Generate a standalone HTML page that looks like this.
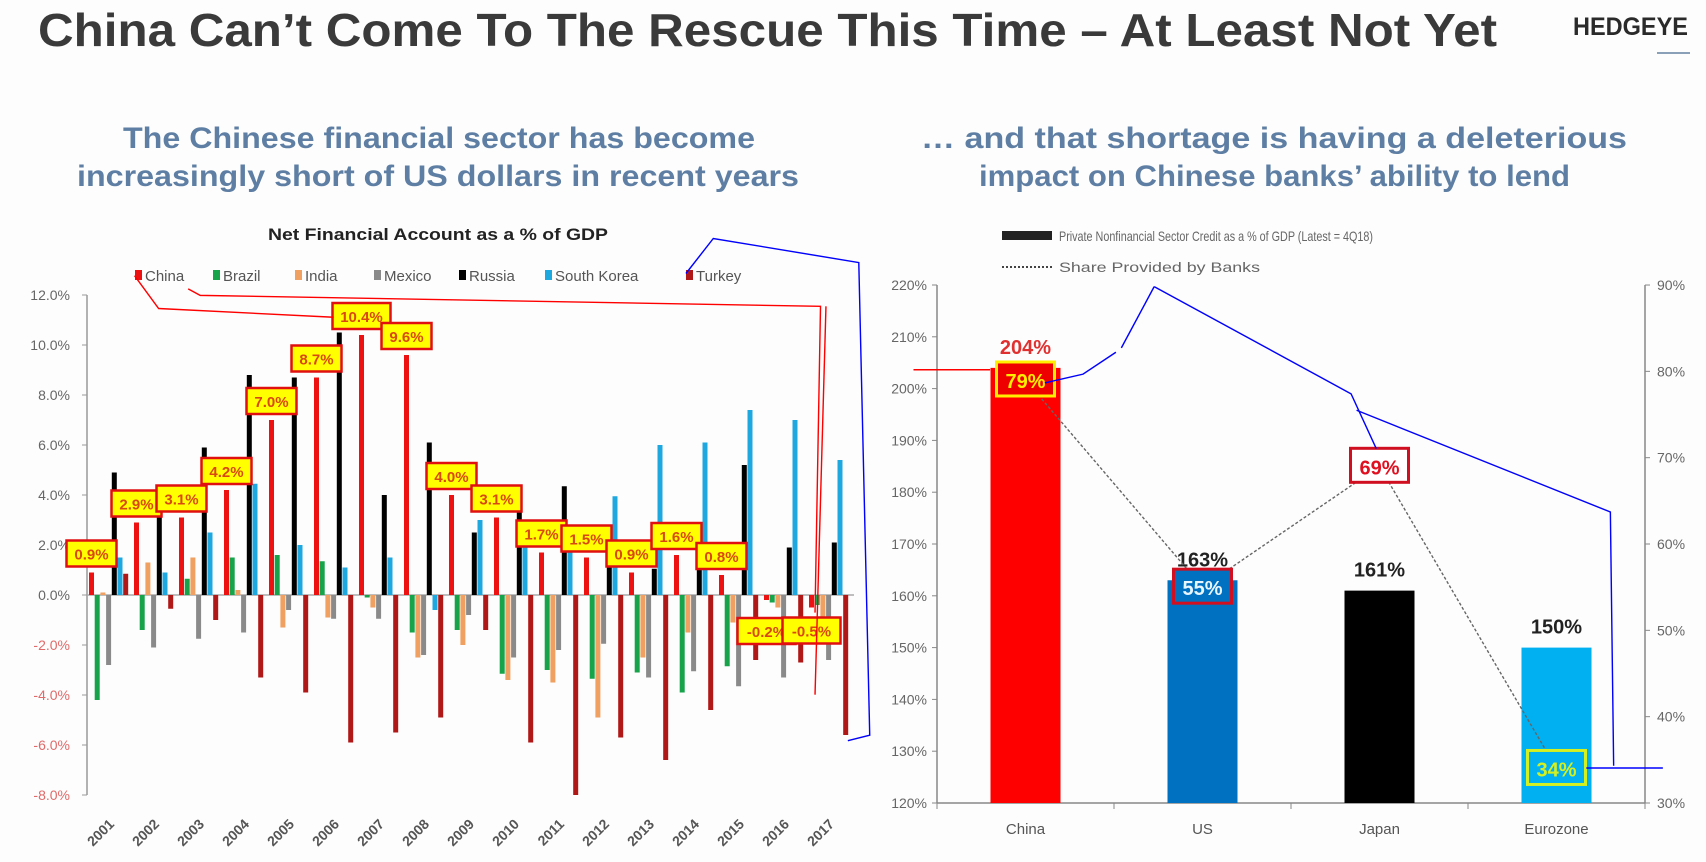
<!DOCTYPE html>
<html><head><meta charset="utf-8">
<style>
html,body{margin:0;padding:0;background:#fdfdfd;}
svg{display:block;font-family:"Liberation Sans",sans-serif;}
</style></head>
<body>
<svg id="chart" width="1706" height="862" viewBox="0 0 1706 862">
<rect x="0" y="0" width="1706" height="862" fill="#fdfdfd"/>
<text x="38" y="46" font-size="46" font-weight="bold" fill="#3a3a3a" textLength="1459" lengthAdjust="spacingAndGlyphs">China Can’t Come To The Rescue This Time – At Least Not Yet</text>
<text x="1573" y="35" font-size="25" font-weight="bold" fill="#2a2a2a" textLength="115" lengthAdjust="spacingAndGlyphs">HEDGEYE</text>
<line x1="1657" y1="53" x2="1690" y2="53" stroke="#8aa0b8" stroke-width="2"/>
<text x="123" y="148" font-size="30" font-weight="bold" fill="#5e7fa3" textLength="632" lengthAdjust="spacingAndGlyphs">The Chinese financial sector has become</text>
<text x="77" y="186" font-size="30" font-weight="bold" fill="#5e7fa3" textLength="722" lengthAdjust="spacingAndGlyphs">increasingly short of US dollars in recent years</text>
<text x="921" y="148" font-size="30" font-weight="bold" fill="#5e7fa3" textLength="706" lengthAdjust="spacingAndGlyphs">… and that shortage is having a deleterious</text>
<text x="979" y="186" font-size="30" font-weight="bold" fill="#5e7fa3" textLength="591" lengthAdjust="spacingAndGlyphs">impact on Chinese banks’ ability to lend</text>
<text x="268" y="240" font-size="17" font-weight="bold" fill="#222" textLength="340" lengthAdjust="spacingAndGlyphs">Net Financial Account as a % of GDP</text>
<g id="left"></g>
<g id="right"></g>
<g id="annot" transform="scale(1.094)" fill="none" stroke-width="1.3">
  <polyline points="123,252 145,282 305,290" stroke="#f00"/>
  <polyline points="172,264 183,270 750,280 745,560" stroke="#f00"/>
  <polyline points="755,280 745,635" stroke="#f00"/>
  <polyline points="835,338 905,338" stroke="#f00"/>
  <polyline points="627,250 652,218 785,240 795,672 775,677" stroke="#00f"/>
  <polyline points="1055,262 1025,318" stroke="#00f"/>
  <polyline points="1020,322 990,342 955,350" stroke="#00f"/>
  <polyline points="1055,262 1235,360 1258,410" stroke="#00f"/>
  <polyline points="1240,375 1472,468 1475,700" stroke="#00f"/>
  <polyline points="1450,702 1520,702" stroke="#00f"/>
</g>
</svg>
<script>
// ---------- LEFT CHART DATA ----------
const years = ["2001","2002","2003","2004","2005","2006","2007","2008","2009","2010","2011","2012","2013","2014","2015","2016","2017"];
const seriesNames = ["China","Brazil","India","Mexico","Russia","South Korea","Turkey"];
const china  = [0.9,2.9,3.1,4.2,7.0,8.7,10.4,9.6,4.0,3.1,1.7,1.5,0.9,1.6,0.8,-0.2,-0.5];
const brazil = [-4.2,-1.4,0.65,1.5,1.6,1.35,-0.1,-1.5,-1.4,-3.15,-3.0,-3.35,-3.1,-3.9,-2.85,-0.3,-0.4];
const india  = [0.1,1.3,1.5,0.2,-1.3,-0.9,-0.5,-2.5,-2.0,-3.4,-3.5,-4.9,-2.5,-1.5,-1.1,-0.5,-1.5];
const mexico = [-2.8,-2.1,-1.75,-1.5,-0.6,-0.95,-0.95,-2.4,-0.8,-2.5,-2.2,-1.95,-3.3,-3.05,-3.65,-3.3,-2.6];
const russia = [4.9,3.5,5.9,8.8,8.7,10.5,4.0,6.1,2.5,3.8,4.35,2.5,1.05,1.1,5.2,1.9,2.1];
const korea  = [1.5,0.9,2.5,4.45,2.0,1.1,1.5,-0.6,3.0,1.9,1.7,3.95,6.0,6.1,7.4,7.0,5.4];
const turkey = [0.85,-0.55,-1.0,-3.3,-3.9,-5.9,-5.5,-4.9,-1.4,-5.9,-8.0,-5.7,-6.6,-4.6,-2.6,-2.7,-5.6];
const yTicks = [12,10,8,6,4,2,0,-2,-4,-6,-8];
// ---------- RIGHT CHART DATA ----------
const regions = ["China","US","Japan","Eurozone"];
const credit = [204,163,161,150];
const creditLabels = ["204%","163%","161%","150%"];
const bankShare = [79,55,69,34];
const leftTicks = [220,210,200,190,180,170,160,150,140,130,120];
const rightTicks = [90,80,70,60,50,40,30];

const NS="http://www.w3.org/2000/svg";
function mk(parent,tag,attrs,text){const e=document.createElementNS(NS,tag);for(const k in attrs)e.setAttribute(k,attrs[k]);if(text!==undefined)e.textContent=text;parent.appendChild(e);return e;}

// ---- left chart ----
const L=document.getElementById('left');
const seriesData=[china,brazil,india,mexico,russia,korea,turkey];
const colors=["#ee1111","#16a34a","#f0a060","#8a8a8a","#000000","#1ea8e0","#b01818"];
const x0=89, groupW=45, barStep=5.7, barW=5;
function yL(v){return 595 - v*25;}
function gx(i){return x0 + i*groupW;}
let ax=mk(L,'line',{x1:87,y1:yL(12),x2:87,y2:yL(-8),stroke:'#999','stroke-width':1.5});


yTicks.forEach(t=>{
  let tk=mk(L,'line',{x1:82,y1:yL(t),x2:87,y2:yL(t),stroke:'#999'});
  
  
  let lb=mk(L,'text',{x:70,y:yL(t)+5,'font-size':14,'text-anchor':'end',fill:t<0?'#e06a6a':'#666'},t.toFixed(1)+'%');
  
  
});
let zl=mk(L,'line',{x1:87,y1:yL(0),x2:gx(years.length),y2:yL(0),stroke:'#aaa','stroke-width':1.5});


const legX=[135,213,295,374,459,545,686];
seriesNames.forEach((n,i)=>{
  let r=mk(L,'rect',{x:legX[i],y:270,width:7,height:10,fill:colors[i]});
  
  
  let t=mk(L,'text',{x:legX[i]+10,y:281,'font-size':15,fill:'#555'},n);
  
  
});
years.forEach((yr,i)=>{
  seriesData.forEach((s,j)=>{
    const v=s[i];
    const bx=gx(i)+j*barStep;
    const r=mk(L,'rect',{x:bx,y:Math.min(yL(v),yL(0)),width:barW,height:Math.abs(yL(v)-yL(0)),fill:colors[j]});
    
    
  });
  const lt=mk(L,'text',{x:0,y:0,'font-size':14,'font-weight':'bold','text-anchor':'end',fill:'#555',transform:`translate(${gx(i)+26},825) rotate(-45)`},yr);
  
  
});
china.forEach((v,i)=>{
  const cx=gx(i)+barW/2;
  let by = v>=0 ? yL(v)-32 : yL(v)+10+(i%2)*8;
  const g=mk(L,'g',{});
  
  
  const txt=v.toFixed(1)+'%';
  const w=txt.length>4?58:50;
  mk(g,'rect',{x:cx-w/2,y:by,width:w,height:26,fill:'#ffff00',stroke:'#e01010','stroke-width':2.5});
  mk(g,'text',{x:cx,y:by+19,'font-size':15,'font-weight':'bold','text-anchor':'middle',fill:'#d9480f'},txt);
});

// ---- right chart ----
const R=document.getElementById('right');
const axL=937, axR=1645, yBase=803;
function yC(v){return yBase-(v-120)*5.18;}
function yS(v){return yBase-(v-30)*8.633;}
const slot=(axR-axL)/regions.length;
function cx(i){return axL+slot*(i+0.5);}
let la=mk(R,'line',{x1:axL,y1:yC(220),x2:axL,y2:yBase,stroke:'#888','stroke-width':1.5});


let ra=mk(R,'line',{x1:axR,y1:yC(220),x2:axR,y2:yBase,stroke:'#888','stroke-width':1.5});


let xa=mk(R,'line',{x1:axL,y1:yBase,x2:axR,y2:yBase,stroke:'#888','stroke-width':1.5});


leftTicks.forEach(t=>{
  let tk=mk(R,'line',{x1:axL-5,y1:yC(t),x2:axL,y2:yC(t),stroke:'#888'});
  
  
  let lb=mk(R,'text',{x:axL-10,y:yC(t)+5,'font-size':14,'text-anchor':'end',fill:'#666'},t+'%');
  
  
});
rightTicks.forEach(t=>{
  let tk=mk(R,'line',{x1:axR,y1:yS(t),x2:axR+5,y2:yS(t),stroke:'#888'});
  
  
  let lb=mk(R,'text',{x:axR+12,y:yS(t)+5,'font-size':14,fill:'#666'},t+'%');
  
  
});
for(let i=0;i<=regions.length;i++){
  let tk=mk(R,'line',{x1:axL+slot*i,y1:yBase,x2:axL+slot*i,y2:yBase+6,stroke:'#888'});
  
  
}
const rColors=["#ff0000","#0070c0","#000000","#00b0f0"];
regions.forEach((n,i)=>{
  let b=mk(R,'rect',{x:cx(i)-35,y:yC(credit[i]),width:70,height:yBase-yC(credit[i]),fill:rColors[i]});
  
  
  let t=mk(R,'text',{x:cx(i),y:yC(credit[i])-14,'font-size':20,'font-weight':'bold','text-anchor':'middle',fill:i===0?'#e03030':'#222'},creditLabels[i]);
  
  
  let xl=mk(R,'text',{x:cx(i),y:834,'font-size':15,'text-anchor':'middle',fill:'#555'},n);
  
  
});
let pts=bankShare.map((v,i)=>cx(i)+','+yS(v)).join(' ');
let pl=mk(R,'polyline',{points:pts,fill:'none',stroke:'#666','stroke-width':1.4,'stroke-dasharray':'3,2'});


const boxFill=["#ee0000","#0070c0","#ffffff","#00b0f0"];
const boxStroke=["#ffee00","#d01020","#d01020","#d4f020"];
const boxText=["#ffee00","#e8f6ff","#e01020","#d4f020"];
bankShare.forEach((v,i)=>{
  const g=mk(R,'g',{});
  
  
  mk(g,'rect',{x:cx(i)-29,y:yS(v)-18,width:58,height:34,fill:boxFill[i],stroke:boxStroke[i],'stroke-width':3});
  mk(g,'text',{x:cx(i),y:yS(v)+8,'font-size':20,'font-weight':'bold','text-anchor':'middle',fill:boxText[i]},v+'%');
});
let lr=mk(R,'rect',{x:1002,y:231,width:50,height:9,fill:'#222'});


let lt1=mk(R,'text',{x:1059,y:241,'font-size':14,fill:'#666',textLength:314,lengthAdjust:'spacingAndGlyphs'},'Private Nonfinancial Sector Credit as a % of GDP (Latest = 4Q18)');


let ld=mk(R,'line',{x1:1002,y1:267,x2:1052,y2:267,stroke:'#444','stroke-width':2,'stroke-dasharray':'2,2'});


let lt2=mk(R,'text',{x:1059,y:272,'font-size':14,fill:'#666',textLength:201,lengthAdjust:'spacingAndGlyphs'},'Share Provided by Banks');


</script>
</body></html>
